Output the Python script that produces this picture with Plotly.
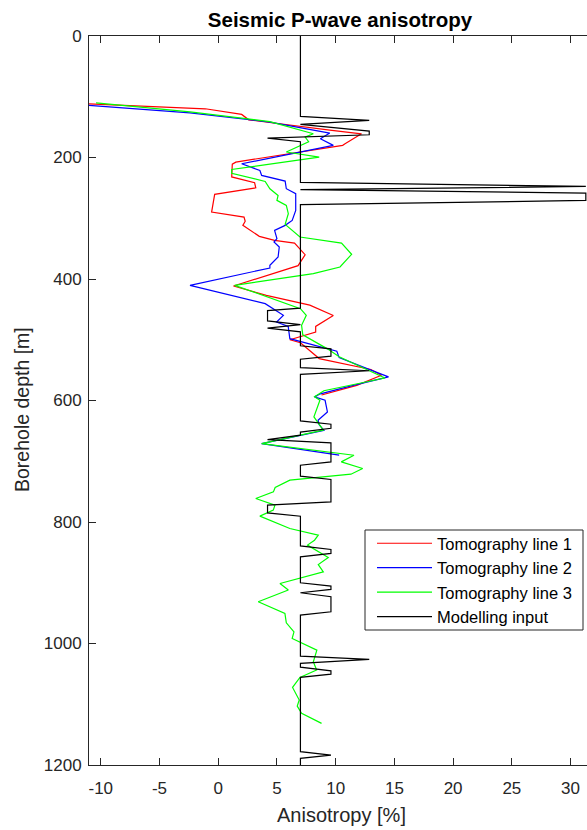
import plotly.graph_objects as go

# Tomography line 1 (red)
depth_t1 = [111.6, 119.8, 129.1, 138, 155, 161, 177.5, 180, 207.6, 211, 232, 241.6, 250, 260.7,
            289.8, 298, 305, 311.7, 329.8, 336.4, 341, 360, 378, 411.5, 427, 443, 460, 478, 487.5,
            500, 505, 531, 549, 558.5, 575, 591]
aniso_t1 = [-11.0, -1.1, 2.0, 2.6, 9.5, 12.2, 10.8, 10.6, 1.5, 1.2, 1.15, 3.1, 3.2, -0.3,
            -0.56, 2.2, 2.3, 2.1, 3.5, 4.8, 6.5, 7.4, 6.8, 1.3, 4.1, 7.8, 9.8, 8.3, 8.3,
            6.1, 7.0, 8.6, 13.0, 13.9, 11.8, 8.8]

# Tomography line 2 (blue)
depth_t2 = [114.3, 126.4, 141.7, 159.8, 169, 180, 210.3, 221.3, 229.5, 238.8, 251.4, 259.6, 287,
            303.5, 311.7, 320, 333.6, 339.1, 347.3, 363.8, 377.5, 381.9, 410.4, 440.6, 459.8,
            470.7, 478, 498.2, 519, 529.4, 550, 561.2, 575, 589, 594, 599.6, 618.8, 632.5,
            640, 649, 670.9, 690]
aniso_t2 = [-11.0, -2.4, 4.4, 9.5, 8.7, 9.8, 2.0, 3.55, 3.7, 5.7, 5.8, 6.6, 6.6,
            6.3, 5.7, 4.8, 5.0, 4.75, 5.2, 5.1, 4.4, 4.4, -2.4, 4.0, 5.55,
            4.97, 5.96, 6.1, 10.1, 10.3, 13.0, 14.5, 11.5, 8.7, 8.2, 9.1, 9.3, 8.5,
            8.6, 9.0, 3.7, 10.3]

# Tomography line 3 (green)
depth_t3 = [110, 125, 141, 160.9, 166.4, 174, 191, 199.5, 219.6, 226, 239.4, 251.4, 262.4, 270.6,
            278.8, 292.5, 310.1, 330.9, 340.8, 359.4, 380.3, 391.2, 410.4, 432.4, 448.8, 459.8,
            476.2, 492, 515, 528, 563, 584, 594, 599.6, 627, 648.9, 670.9, 690.1, 701, 712,
            721.3, 731.2, 743.3, 750.4, 761.3, 772.3, 780.5, 790.4, 810.7, 821.7, 830, 838,
            858.5, 870, 882, 901.2, 912, 931.3, 950.5, 966, 980.7, 991.7, 1010.9, 1030,
            1043.7, 1055.8, 1072.3, 1093.1, 1103, 1115, 1131.5]
aniso_t3 = [-10.4, -2.4, 4.4, 8.1, 7.4, 7.7, 5.8, 8.6, 1.15, 1.15, 4.0, 4.4, 5.1, 5.0,
            5.8, 5.97, 5.7, 6.96, 10.5, 11.36, 10.37, 8.1, 1.4, 4.7, 7.0, 7.5,
            7.1, 7.2, 9.3, 10.3, 14.2, 9.0, 8.2, 8.66, 8.15, 8.95, 3.7, 11.56, 10.48, 12.3,
            11.3, 6.1, 4.85, 4.7, 3.2, 4.83, 4.69, 3.55, 6.1, 8.52, 8.2, 7.6,
            9.37, 8.52, 8.95, 5.26, 5.97, 3.41, 5.68, 5.8, 6.45, 6.3, 8.4, 8.1,
            8.38, 6.96, 6.33, 6.9, 6.73, 7.1, 8.8]

# Modelling input (black)
depth_model = [0, 132.4, 139, 145.6, 156.5, 162.6, 168.1, 174, 241, 247.6, 253, 258.5, 270.6, 277.7,
               448, 452, 469, 475, 481, 487, 510, 515, 527, 532, 546, 551, 557, 596, 602, 633.6,
               639, 645.7, 652, 657, 664.3, 669.8, 701, 706.5, 724.6, 730, 767, 772.3, 785, 790.4,
               839.3, 845.2, 851.8, 857.3, 900.1, 905.6, 911, 916.5, 923, 947.8, 953.3, 1020.7,
               1026.2, 1032.8, 1039, 1044.9, 1050.4, 1055.8, 1178, 1183.6, 1189, 1200]
aniso_model = [7, 7, 12.86, 7, 12.86, 12.86, 4.2, 7, 7, 31.3, 7, 31.3, 31.3, 7,
               7, 4.2, 4.2, 7, 4.2, 7, 7, 9.6, 9.6, 7, 7, 12.86, 7, 7, 7, 7,
               9.6, 9.6, 7, 7, 4.2, 9.6, 9.6, 7, 7, 9.6, 9.6, 4.2, 4.2, 7,
               7, 9.6, 9.6, 7, 7, 9.6, 9.6, 7, 9.6, 9.6, 7, 7,
               12.86, 7, 7, 9.6, 9.6, 7, 7, 9.6, 7, 7]

x_ticks = [-10, -5, 0, 5, 10, 15, 20, 25, 30]
x_tick_labels = ["-10", "-5", "0", "5", "10", "15", "20", "25", "30"]
y_ticks = [0, 200, 400, 600, 800, 1000, 1200]

FONT = "Liberation Sans, Arial, Helvetica, sans-serif"
AXC = "#262626"

# plot area in pixels: left 89, right 587, top 36, bottom 765
PL, PR, PT, PB = 89, 587, 36, 765


def px_x(p):
    return (p - PL) / (PR - PL)


def px_y(p):
    return (PB - p) / (PB - PT)


fig = go.Figure()
series = [
    ("Tomography line 1", aniso_t1, depth_t1, "#ff0000"),
    ("Tomography line 2", aniso_t2, depth_t2, "#0000ff"),
    ("Tomography line 3", aniso_t3, depth_t3, "#00ff00"),
    ("Modelling input", aniso_model, depth_model, "#000000"),
]
for name, xv, yv, col in series:
    fig.add_trace(go.Scatter(x=xv, y=yv, mode="lines", name=name,
                             line=dict(color=col, width=1.2)))

fig.update_layout(
    width=587, height=830,
    margin=dict(l=PL, r=587 - PR, t=PT, b=830 - PB),
    paper_bgcolor="white", plot_bgcolor="white",
    font=dict(family=FONT, color=AXC, size=17),
    title=dict(text="<b>Seismic P-wave anisotropy</b>", x=px_x(340), xref="paper",
               xanchor="center", y=1 - 20 / 830, yanchor="middle",
               font=dict(size=20.5, color="#000000", family=FONT)),
    showlegend=True,
    legend=dict(x=px_x(372), y=px_y(526), xanchor="left", yanchor="top",
                bgcolor="rgba(0,0,0,0)", borderwidth=0,
                font=dict(size=16.5, color="#000000", family=FONT),
                itemwidth=55, tracegroupgap=0),
    shapes=[
        # legend frame
        dict(type="rect", xref="paper", yref="paper", x0=px_x(365), x1=px_x(583),
             y0=px_y(630), y1=px_y(530), line=dict(color=AXC, width=1),
             fillcolor="white", layer="above"),
    ],
    xaxis=dict(range=[-11, 31.4], tickvals=x_ticks, ticktext=x_tick_labels,
               ticks="inside", ticklen=7, tickcolor=AXC, showline=True, linecolor=AXC,
               linewidth=1, mirror="ticks", showgrid=False, zeroline=False,
               ticklabelstandoff=8, tickfont=dict(size=17, color=AXC)),
    yaxis=dict(range=[1200, 0], tickvals=y_ticks, ticks="inside", ticklen=7,
               tickcolor=AXC, showline=True, linecolor=AXC, linewidth=1, mirror=False,
               showgrid=False, zeroline=False, ticklabelstandoff=3,
               tickfont=dict(size=17, color=AXC)),
    annotations=[
        dict(text="Anisotropy [%]", xref="paper", yref="paper", x=px_x(341),
             y=px_y(815), xanchor="center", yanchor="middle", showarrow=False,
             font=dict(size=20, color=AXC, family=FONT)),
        dict(text="Borehole depth [m]", xref="paper", yref="paper", x=px_x(22),
             y=px_y(410), xanchor="center", yanchor="middle", textangle=-90,
             showarrow=False, font=dict(size=19.5, color=AXC, family=FONT)),
    ],
)

fig.write_html("out.html")
